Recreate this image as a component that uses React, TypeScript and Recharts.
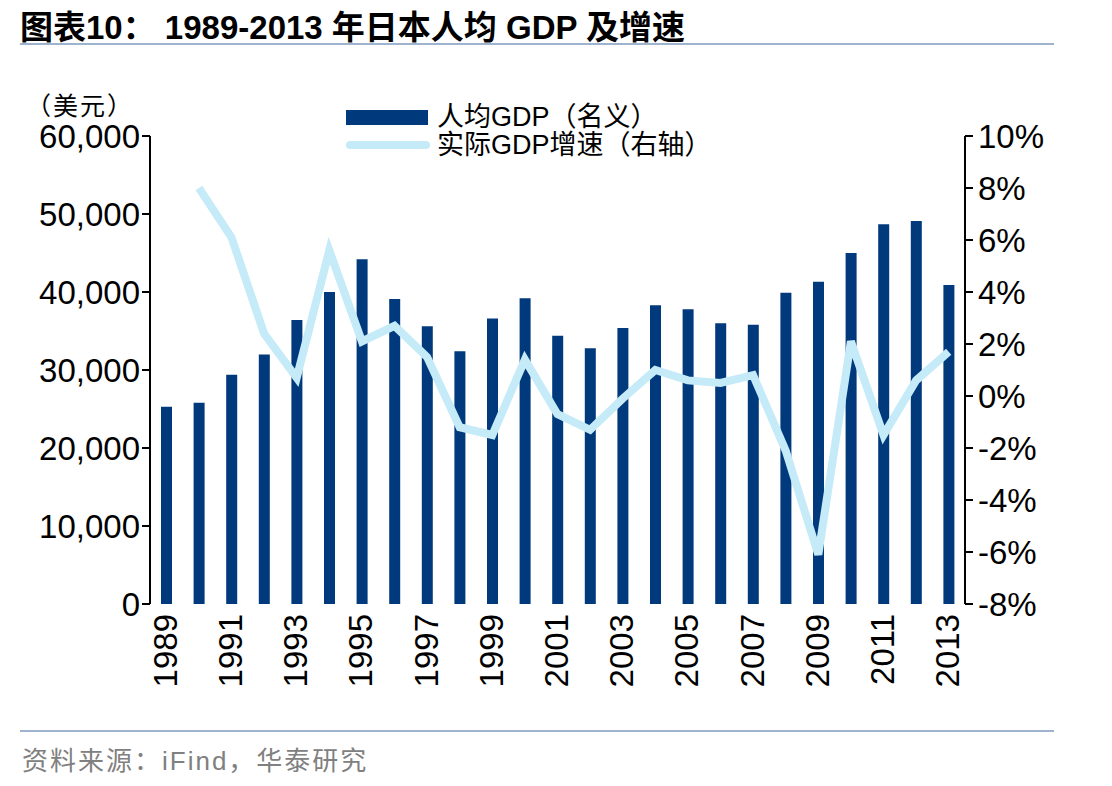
import { ComposedChart, Bar, Line, XAxis, YAxis, Legend } from "recharts";

const years = [
  "1989", "1990", "1991", "1992", "1993", "1994", "1995", "1996", "1997",
  "1998", "1999", "2000", "2001", "2002", "2003", "2004", "2005", "2006",
  "2007", "2008", "2009", "2010", "2011", "2012", "2013",
];
// 人均GDP（名义），美元
const gdpPerCapita = [
  25300, 25800, 29400, 32000, 36400, 40000, 44200, 39100, 35600,
  32400, 36600, 39200, 34400, 32800, 35400, 38300, 37800, 36000,
  35800, 39900, 41300, 45000, 48700, 49100, 40900,
];
// 实际GDP增速，%
const realGrowth: (number | null)[] = [
  null, 8.0, 6.1, 2.4, 0.7, 5.6, 2.1, 2.7, 1.5,
  -1.2, -1.5, 1.4, -0.7, -1.3, -0.1, 1.0, 0.6, 0.5,
  0.8, -2.1, -6.1, 2.1, -1.5, 0.6, 1.7,
];
const leftTicks = [0, 10000, 20000, 30000, 40000, 50000, 60000];
const rightTicks = [-8, -6, -4, -2, 0, 2, 4, 6, 8, 10];
const edgeTicks = Array.from({ length: years.length + 1 }, (_, i) => i);

const data = years.map((year, i) => ({
  year,
  gdp: gdpPerCapita[i],
  growth: realGrowth[i],
}));

const FONT = '"Liberation Sans", Arial, "Noto Sans CJK SC", sans-serif';
const BAR = "#003A7D";
const LINE = "#C5EAF8";

function LegendBox() {
  const row = { display: "flex", alignItems: "center", height: 28 } as const;
  return (
    <div style={{ fontFamily: FONT, fontSize: 27, color: "#000", whiteSpace: "nowrap", lineHeight: "28px" }}>
      <div style={row}>
        <span style={{ width: 82, height: 15, background: BAR, marginRight: 9 }} />
        <span>人均GDP（名义）</span>
      </div>
      <div style={row}>
        <span style={{ width: 84, height: 8, borderRadius: 4, background: LINE, marginRight: 7 }} />
        <span>实际GDP增速（右轴）</span>
      </div>
    </div>
  );
}

export default function App() {
  const tickStyle = { fontSize: 33, fill: "#000", fontFamily: FONT };
  return (
    <div style={{ position: "absolute", left: 0, top: 0, width: 1112, height: 786, background: "#fff", fontFamily: FONT }}>
      <div style={{ position: "absolute", left: 20, top: 1, fontSize: 33, fontWeight: "bold", whiteSpace: "nowrap" }}>
        图表10： 1989-2013 年日本人均 GDP 及增速
      </div>
      <div style={{ position: "absolute", left: 20, top: 43, width: 1034, height: 2, background: "#9DB3CE" }} />
      <div style={{ position: "absolute", left: 26, top: 94, fontSize: 25, lineHeight: "25px", letterSpacing: 2 }}>（美元）</div>

      <ComposedChart
        width={1112}
        height={786}
        data={data}
        margin={{ top: 136, right: 0, bottom: 82, left: 0 }}
      >
        <XAxis
          xAxisId="edge"
          type="number"
          domain={[0, years.length]}
          ticks={edgeTicks}
          tickFormatter={() => ""}
          tickSize={8}
          height={0}
          stroke="#000"
          strokeWidth={2}
        />
        <XAxis
          xAxisId="cat"
          dataKey="year"
          interval={1}
          tickLine={false}
          axisLine={false}
          angle={-90}
          textAnchor="end"
          dy={-12}
          dx={-13}
          tick={tickStyle}
          tickMargin={16}
          height={100}
        />
        <YAxis
          yAxisId="left"
          width={150}
          domain={[0, 60000]}
          ticks={leftTicks}
          tickFormatter={(v: number) => v.toLocaleString("en-US")}
          tick={tickStyle}
          tickSize={8}
          tickMargin={2}
          stroke="#000"
          strokeWidth={2}
        />
        <YAxis
          yAxisId="right"
          orientation="right"
          width={147}
          domain={[-8, 10]}
          ticks={rightTicks}
          tickFormatter={(v: number) => `${v}%`}
          tick={tickStyle}
          tickSize={8}
          tickMargin={5}
          stroke="#000"
          strokeWidth={2}
        />
        <Legend
          verticalAlign="middle"
          align="center"
          content={() => <LegendBox />}
          wrapperStyle={{ top: 103, left: 346, width: 440 }}
        />
        <Bar
          xAxisId="cat"
          yAxisId="left"
          dataKey="gdp"
          name="人均GDP（名义）"
          fill={BAR}
          barSize={11}
          isAnimationActive={false}
        />
        <Line
          xAxisId="cat"
          yAxisId="right"
          dataKey="growth"
          name="实际GDP增速（右轴）"
          stroke={LINE}
          strokeWidth={8}
          dot={false}
          activeDot={false}
          connectNulls={false}
          isAnimationActive={false}
        />
      </ComposedChart>

      <div style={{ position: "absolute", left: 20, top: 730, width: 1034, height: 2, background: "#9DB3CE" }} />
      <div style={{ position: "absolute", left: 22, top: 740, fontSize: 26, color: "#808080", letterSpacing: 2, whiteSpace: "nowrap" }}>
        资料来源：iFind，华泰研究
      </div>
    </div>
  );
}
